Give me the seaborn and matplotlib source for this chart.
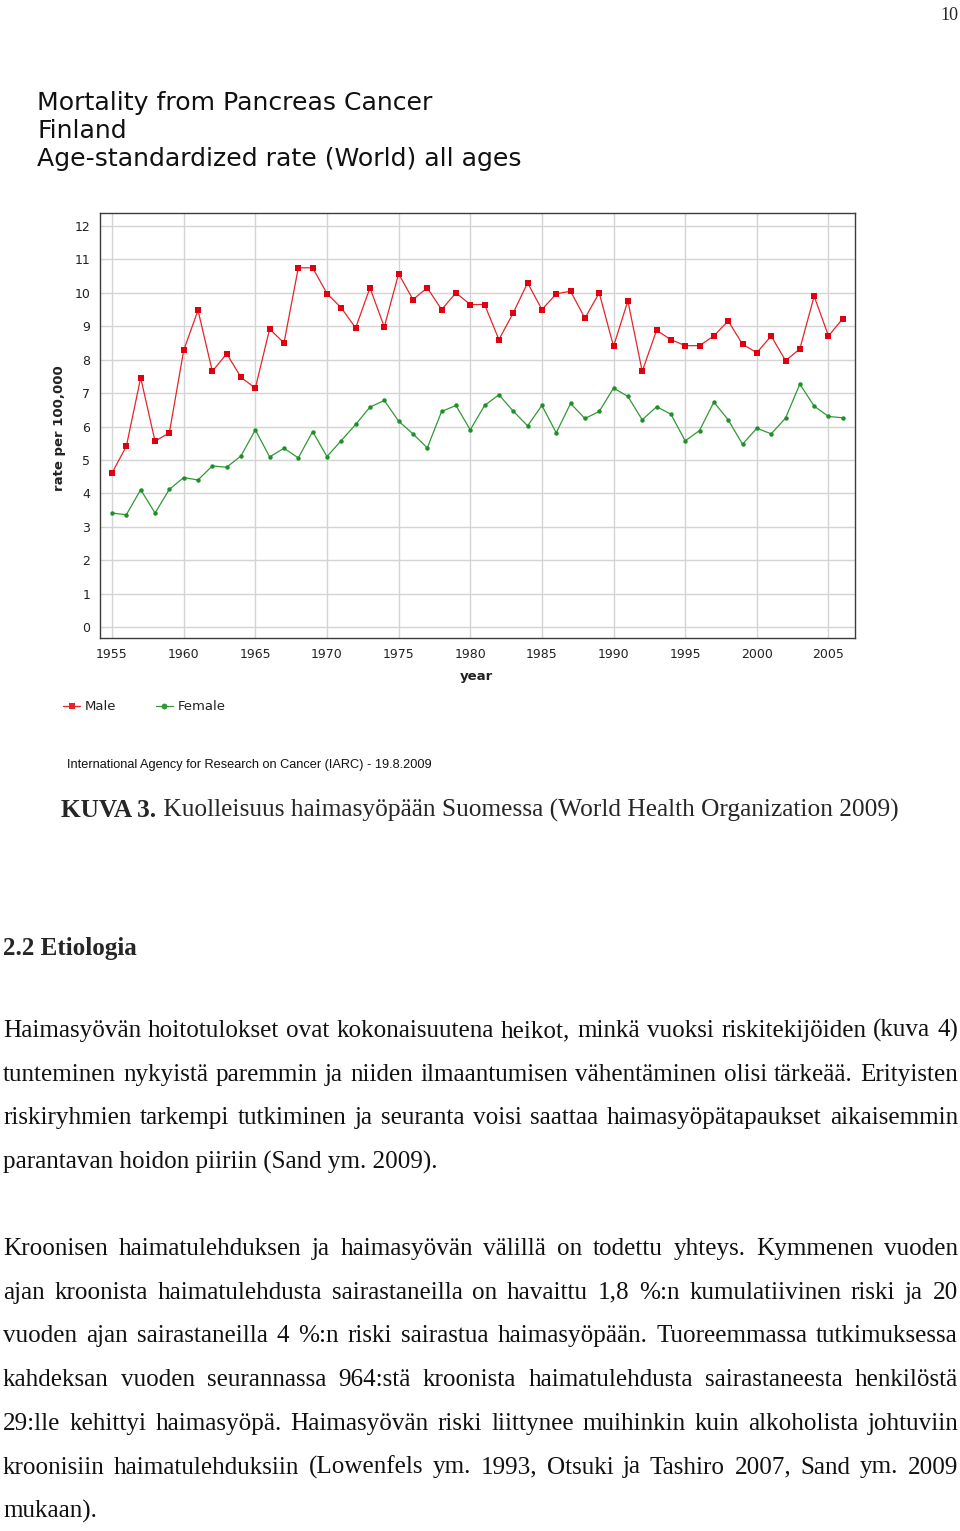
import pandas as pd
import matplotlib
matplotlib.use("Agg")
import matplotlib.pyplot as plt
import seaborn as sns

# --- data ---
years = list(range(1955, 2007))
male = [4.61, 5.41, 7.46, 5.56, 5.81, 8.28, 9.48, 7.65, 8.18, 7.47,
        7.15, 8.92, 8.50, 10.75, 10.75, 9.98, 9.55, 8.95, 10.15, 8.98,
        10.57, 9.80, 10.15, 9.50, 10.00, 9.65, 9.65, 8.60, 9.40, 10.30,
        9.50, 9.97, 10.05, 9.24, 10.00, 8.40, 9.76, 7.65, 8.88, 8.60,
        8.42, 8.42, 8.71, 9.16, 8.46, 8.21, 8.71, 7.97, 8.32, 9.90,
        8.71, 9.23]
female = [3.41, 3.36, 4.11, 3.41, 4.12, 4.47, 4.40, 4.82, 4.78, 5.12,
          5.90, 5.09, 5.35, 5.06, 5.85, 5.10, 5.58, 6.06, 6.58, 6.78,
          6.16, 5.78, 5.36, 6.45, 6.63, 5.90, 6.63, 6.95, 6.46, 6.02,
          6.63, 5.81, 6.69, 6.24, 6.45, 7.15, 6.90, 6.20, 6.59, 6.37,
          5.57, 5.88, 6.73, 6.20, 5.47, 5.95, 5.78, 6.25, 7.27, 6.61,
          6.30, 6.26]
x_ticks = [1955, 1960, 1965, 1970, 1975, 1980, 1985, 1990, 1995, 2000, 2005]
y_ticks = list(range(0, 13))

title_lines = ["Mortality from Pancreas Cancer", "Finland",
               "Age-standardized rate (World) all ages"]
source = "International Agency for Research on Cancer (IARC) - 19.8.2009"
caption_bold = "KUVA 3."
caption_rest = " Kuolleisuus haimasyöpään Suomessa (World Health Organization 2009)"
heading = "2.2 Etiologia"
para1 = [
    "Haimasyövän hoitotulokset ovat kokonaisuutena heikot, minkä vuoksi riskitekijöiden (kuva 4)",
    "tunteminen nykyistä paremmin ja niiden ilmaantumisen vähentäminen olisi tärkeää. Erityisten",
    "riskiryhmien tarkempi tutkiminen ja seuranta voisi saattaa haimasyöpätapaukset aikaisemmin",
    "parantavan hoidon piiriin (Sand ym. 2009).",
]
para2 = [
    "Kroonisen haimatulehduksen ja haimasyövän välillä on todettu yhteys. Kymmenen vuoden",
    "ajan kroonista haimatulehdusta sairastaneilla on havaittu 1,8 %:n kumulatiivinen riski ja 20",
    "vuoden ajan sairastaneilla 4 %:n riski sairastua haimasyöpään. Tuoreemmassa tutkimuksessa",
    "kahdeksan vuoden seurannassa 964:stä kroonista haimatulehdusta sairastaneesta henkilöstä",
    "29:lle kehittyi haimasyöpä. Haimasyövän riski liittynee muihinkin kuin alkoholista johtuviin",
    "kroonisiin haimatulehduksiin (Lowenfels ym. 1993, Otsuki ja Tashiro 2007, Sand ym. 2009",
    "mukaan).",
]

df = pd.DataFrame({
    "year": years * 2,
    "rate": male + female,
    "sex": ["Male"] * len(years) + ["Female"] * len(years),
})

sns.set_theme(style="whitegrid")
plt.rcParams["font.family"] = ["DejaVu Sans"]

W, H = 960, 1531
fig = plt.figure(figsize=(W / 100, H / 100), dpi=100)
fig.patch.set_facecolor("white")
renderer = fig.canvas.get_renderer()


def fx(x):
    return x / W


def fy(y):
    return 1 - y / H


def text_width(s, **kw):
    t = fig.text(0, 0, s, **kw)
    w = t.get_window_extent(renderer).width
    t.remove()
    return w


def fit_size(s, width, **kw):
    return 10 * width / text_width(s, fontsize=10, **kw)


# --- chart ---
ax = fig.add_axes([fx(100), fy(638), fx(755), 425 / H])
sns.lineplot(data=df, x="year", y="rate", hue="sex", style="sex",
             palette={"Male": "#e3262b", "Female": "#2f9a35"},
             markers={"Male": "s", "Female": "o"}, dashes=False,
             markersize=4.2, markeredgewidth=0, linewidth=0.9, ax=ax)
for ln, mc in zip(ax.lines[:2], ["#e00010", "#1f9028"]):
    ln.set_markerfacecolor(mc)
ax.lines[1].set_markersize(3.2)

ax.set_xlim(1954.16, 2006.85)
ax.set_ylim(-0.33, 12.39)
ax.set_xticks(x_ticks)
ax.set_yticks(y_ticks)
ax.grid(True, color="#d4d4d4", linewidth=1)
for sp in ax.spines.values():
    sp.set_color("#3c3c3c")
    sp.set_linewidth(1)
ax.tick_params(axis="both", length=4, width=0.8, color="#3c3c3c",
               labelsize=9, labelcolor="#222222", pad=3, direction="out")
ax.set_xlabel("year", fontsize=9.5, fontweight="bold", color="#222222")
ax.set_ylabel("rate per 100,000", fontsize=9.5, fontweight="bold", color="#222222")
ax.xaxis.set_label_coords((476 - 100) / 755, -(670 - 638) / 425)
ax.yaxis.label.set_va("center")
ax.yaxis.set_label_coords((60 - 100) / 755, (638 - 428) / 425)

handles, labels = ax.get_legend_handles_labels()
ax.get_legend().remove()
fig.legend(handles, labels, loc="center left",
           bbox_to_anchor=(fx(63), fy(707)), ncol=2, frameon=False,
           fontsize=9.5, handlelength=1.3, handletextpad=0.35,
           columnspacing=3.0, borderpad=0, borderaxespad=0,
           labelcolor="#222222")

# --- chart title and source ---
tsize = fit_size(title_lines[2], 485)
for line, base in zip(title_lines, [110, 138, 166]):
    fig.text(fx(37), fy(base), line, fontsize=tsize, va="baseline",
             color="#111111")
fig.text(fx(67), fy(768), source, va="baseline", color="#111111",
         family="Liberation Sans", fontsize=fit_size(source, 368, family="Liberation Sans"))

# --- page text ---
serif = "Liberation Serif"
fig.text(fx(958), fy(20), "10", ha="right", va="baseline", family=serif, fontsize=13)

cap_full = caption_bold + caption_rest
cw_b = text_width(caption_bold, fontsize=10, family=serif, fontweight="bold")
cw_r = text_width(caption_rest, fontsize=10, family=serif)
csize = 10 * 841 / (cw_b + cw_r)
fig.text(fx(61), fy(817), caption_bold, family=serif, fontweight="bold",
         fontsize=csize, va="baseline")
fig.text(fx(61 + cw_b * csize / 10), fy(817), caption_rest, family=serif,
         fontsize=csize, va="baseline")

fig.text(fx(3), fy(955), heading, family=serif, fontweight="bold",
         fontsize=fit_size(heading, 134, family=serif, fontweight="bold"),
         va="baseline")

bsize = fit_size(para1[3], 437, family=serif)


def draw_paragraph(lines, first_base, step=43.7, left=3, right=958):
    for i, line in enumerate(lines):
        base = first_base + i * step
        if i == len(lines) - 1:
            fig.text(fx(left), fy(base), line, family=serif, fontsize=bsize,
                     va="baseline", color="#111111")
            continue
        words = line.split(" ")
        widths = [text_width(w, family=serif, fontsize=bsize) for w in words]
        gap = (right - left - sum(widths)) / (len(words) - 1)
        x = left
        for w, wd in zip(words, widths):
            fig.text(fx(x), fy(base), w, family=serif, fontsize=bsize,
                     va="baseline", color="#111111")
            x += wd + gap


draw_paragraph(para1, 1037)
draw_paragraph(para2, 1255)

fig.savefig("out.png", dpi=100, facecolor="white")
